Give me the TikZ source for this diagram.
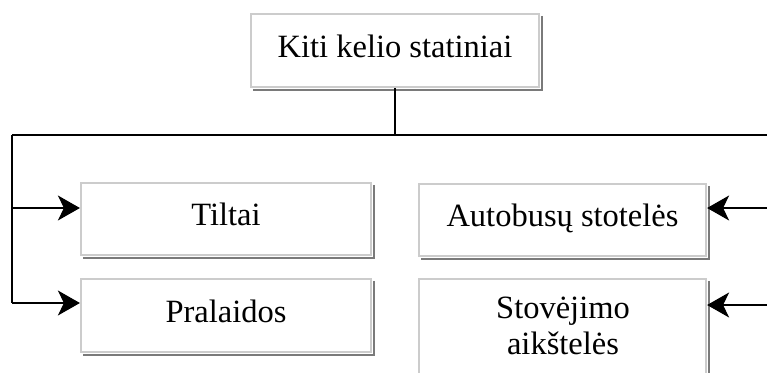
\documentclass[tikz,border=0pt]{standalone}
\usepackage{fontspec}
\setmainfont{Liberation Serif}
\usetikzlibrary{arrows.meta}
\begin{document}
\begin{tikzpicture}[x=1pt,y=-1pt,
  box/.style={draw=black!20, line width=2.2pt, fill=white, inner sep=0pt},
  label/.style={font=\fontsize{32.5}{36}\selectfont, inner sep=0pt},
  oneline/.style={label, text height=22pt, text depth=9pt},
  boxshadow/.style={draw=black!52, line width=2.2pt},
  link/.style={line width=1.4pt},
  arr/.style={line width=1.2pt, -{Stealth[length=22pt,width=25pt,inset=6pt]}}]
  \useasboundingbox (0,0) rectangle (767,372);
  \clip (0,0) rectangle (767,372);
  % boxes
  \node[box, oneline, minimum width=288pt, minimum height=73pt] (top) at (395,50.5) {Kiti kelio statiniai};
  \node[box, oneline, minimum width=290pt, minimum height=72pt] (tiltai) at (226,219) {Tiltai};
  \node[box, oneline, minimum width=290pt, minimum height=73pt] (pral) at (226,315.5) {Pralaidos};
  \node[box, oneline, minimum width=287pt, minimum height=72pt] (bus) at (562.5,220) {Autobusų stotelės};
  \node[box, minimum width=287pt, minimum height=115pt] (stov) at (562.5,336.5) {};
  \node[label, align=center] (stovtxt) at (563,326) {Stovėjimo\\aikštelės};
  % drop shadows on the right and bottom edges
  \foreach \n in {top,tiltai,pral,bus,stov}{
    \draw[boxshadow] ([shift={(2.2pt,-3pt)}]\n.north east) -- ([shift={(2.2pt,-2.2pt)}]\n.south east)
      -- ([shift={(3pt,-2.2pt)}]\n.south west);
  }
  % bus lines
  \coordinate (busL) at (12,135);
  \coordinate (busR) at (776,135);
  \coordinate (l1) at (12,208);
  \coordinate (l2) at (12,303);
  \coordinate (r1) at (776,208);
  \coordinate (r2) at (776,305);
  \draw[link] (top.south) -- (top.south |- busL);
  \draw[link] (busL) -- (busR);
  \draw[link] (busL) -- (l2);
  \draw[link] (busR) -- (r2);
  % arrows into the boxes
  \draw[arr] (l1) -- (l1 -| tiltai.west);
  \draw[arr] (l2) -- (l2 -| pral.west);
  \draw[arr] (r1) -- (r1 -| bus.east);
  \draw[arr] (r2) -- (r2 -| stov.east);
\end{tikzpicture}
\end{document}
